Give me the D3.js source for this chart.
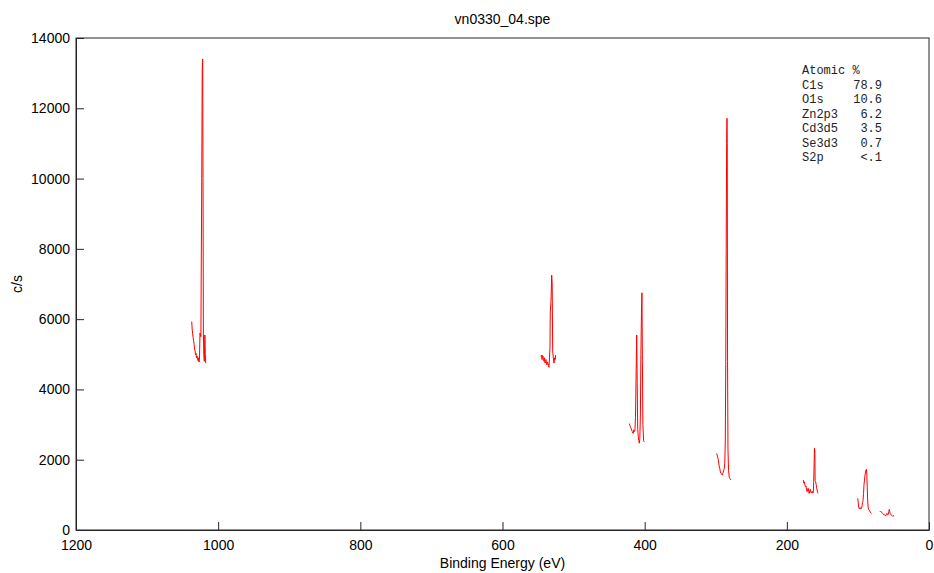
<!DOCTYPE html>
<html>
<head>
<meta charset="utf-8">
<script src="https://cdn.jsdelivr.net/npm/d3@7"></script>
<style>
  body { margin: 0; background: #fff; }
  svg { display: block; }
</style>
</head>
<body>
<svg id="chart" width="934" height="573"></svg>
<script>
// XPS survey regions, [binding energy eV, counts/s]
const zn2p = [
  [1037.2, 5930], [1036.6, 5720], [1036.0, 5600], [1035.3, 5480], [1034.6, 5400],
  [1033.9, 5280], [1033.2, 5150], [1032.5, 5100], [1031.8, 4980], [1031.1, 5020],
  [1030.4, 4900], [1029.7, 4950], [1029.0, 4860], [1028.3, 4820], [1027.6, 4900],
  [1026.9, 4780], [1026.3, 4850], [1025.6, 5600], [1025.0, 5550], [1024.3, 5500],
  [1023.8, 7400], [1023.1, 10000], [1022.4, 13100], [1021.8, 13400], [1021.3, 10000],
  [1020.8, 5600], [1020.2, 5000], [1019.5, 4800], [1018.7, 5550], [1018.1, 5000],
  [1017.5, 4750]
];
const o1s = [
  [545.8, 4930], [545.1, 4980], [544.4, 4850], [543.7, 4960], [543.0, 4950],
  [542.3, 4820], [541.6, 4800], [540.9, 4900], [540.2, 4750], [539.5, 4800],
  [538.8, 4850], [538.1, 4720], [537.4, 4700], [536.7, 4780], [536.0, 4750],
  [535.3, 4680], [534.6, 4630], [533.9, 4900], [533.2, 5200], [532.8, 6200],
  [531.8, 6500], [530.8, 7250], [530.1, 7000], [529.4, 5100], [528.5, 4900],
  [527.6, 4750], [526.6, 4900], [525.9, 4850], [525.2, 4980]
];
const cd3d = [
  [421.6, 3030], [420.9, 2980], [420.2, 2950], [419.5, 2900], [418.8, 2880],
  [418.1, 2830], [417.4, 2800], [416.7, 2760], [416.0, 2750], [415.3, 2850],
  [414.5, 2800], [413.7, 2830], [412.9, 3200], [412.0, 4500], [411.2, 5550],
  [410.5, 4200], [409.8, 2900], [409.0, 2650], [408.3, 2550], [407.5, 2470],
  [406.8, 2600], [406.0, 3300], [405.3, 5000], [404.5, 6200], [403.8, 6750],
  [403.2, 4800], [402.5, 3000], [401.5, 2550], [400.5, 2510]
];
const c1s = [
  [298.7, 2180], [298.0, 2130], [297.3, 2080], [296.5, 2000], [295.8, 1900],
  [295.0, 1800], [294.3, 1750], [293.5, 1650], [292.8, 1620], [292.0, 1600],
  [291.3, 1570], [290.8, 1565], [290.2, 1600], [289.5, 1650], [288.8, 1700],
  [288.0, 1760], [287.3, 1900], [286.6, 2500], [285.9, 4700], [285.3, 8000],
  [284.7, 11000], [284.2, 11715], [283.8, 10900], [283.4, 4800], [282.8, 2300],
  [282.0, 1700], [281.0, 1500], [280.0, 1460], [278.5, 1423]
];
const se3p = [
  [176.8, 1420], [176.0, 1330], [175.2, 1370], [174.5, 1280], [173.8, 1230],
  [173.0, 1250], [172.3, 1150], [171.5, 1090], [170.8, 1160], [170.0, 1190],
  [169.3, 1100], [168.5, 1040], [167.8, 1120], [167.0, 1160], [166.2, 1080],
  [165.5, 1050], [164.8, 1080], [164.2, 1100], [163.2, 1050], [162.6, 1100],
  [162.2, 1380], [161.6, 1900], [161.1, 2325], [160.6, 2250], [160.2, 1400],
  [159.6, 1380], [158.8, 1300], [158.0, 1200], [157.0, 1100], [156.2, 1044]
];
const zn3p = [
  [100.3, 900], [99.6, 800], [99.0, 650], [98.4, 620], [97.7, 600],
  [97.0, 640], [96.3, 600], [95.6, 610], [94.8, 620], [94.1, 700],
  [93.4, 780], [92.8, 850], [92.1, 1040], [91.4, 1300], [90.7, 1420],
  [90.0, 1560], [89.3, 1650], [88.7, 1700], [88.1, 1727], [87.5, 1600],
  [86.9, 1230], [86.2, 800], [85.5, 626], [84.8, 580], [84.0, 569],
  [83.3, 540], [82.5, 500], [81.5, 480], [80.6, 474]
];
const se3d = [
  [68.9, 522], [68.3, 540], [67.6, 525], [67.0, 510], [66.3, 490],
  [65.6, 474], [65.0, 470], [64.2, 450], [63.5, 427], [62.8, 440],
  [62.0, 420], [61.3, 398], [60.6, 410], [60.0, 440], [59.3, 474],
  [58.7, 440], [58.0, 427], [57.3, 450], [56.6, 520], [55.9, 588],
  [55.2, 520], [54.5, 470], [53.8, 450], [53.0, 420], [52.3, 410],
  [51.5, 400], [50.5, 405], [49.2, 398]
];
const regions = [zn2p, o1s, cd3d, c1s, se3p, zn3p, se3d];

const xTicks = [1200, 1000, 800, 600, 400, 200, 0];
const yTicks = [0, 2000, 4000, 6000, 8000, 10000, 12000, 14000];

const quantNames = ["C1s", "O1s", "Zn2p3", "Cd3d5", "Se3d3", "S2p"];
const quantValues = ["78.9", "10.6", "6.2", "3.5", "0.7", "<.1"];

const svg = d3.select("#chart");
const margin = { top: 38, right: 5, bottom: 43, left: 76 };
const W = 934, H = 573;
const width = W - margin.left - margin.right;
const height = H - margin.top - margin.bottom;

const x = d3.scaleLinear().domain([1200, 0]).range([0, width]);
const y = d3.scaleLinear().domain([0, 14000]).range([height, 0]);

const g = svg.append("g")
  .attr("transform", `translate(${margin.left},${margin.top})`);

const axisColor = "#262626";
const font = "'Liberation Sans', Arial, sans-serif";

// spectrum segments
const line = d3.line().x(d => x(d[0])).y(d => y(d[1]));
g.selectAll("path.seg")
  .data(regions)
  .enter()
  .append("path")
  .attr("class", "seg")
  .attr("d", line)
  .attr("fill", "none")
  .attr("stroke", "#ff0000")
  .attr("stroke-width", 1);

// box
g.append("rect")
  .attr("x", 0).attr("y", 0)
  .attr("width", width).attr("height", height)
  .attr("fill", "none")
  .attr("stroke", axisColor)
  .attr("stroke-width", 1);

const xAxis = g.append("g")
  .attr("transform", `translate(0,${height})`)
  .call(d3.axisBottom(x).tickValues(xTicks).tickFormat(d3.format("d"))
    .tickSizeInner(-8).tickSizeOuter(0).tickPadding(10));
const yAxis = g.append("g")
  .call(d3.axisLeft(y).tickValues(yTicks).tickFormat(d3.format("d"))
    .tickSizeInner(-8).tickSizeOuter(0).tickPadding(6));

[xAxis, yAxis].forEach(a => {
  a.select(".domain").attr("stroke", axisColor);
  a.selectAll(".tick line").attr("stroke", axisColor);
  a.selectAll(".tick text")
    .attr("fill", "#000")
    .style("font-family", font)
    .style("font-size", "14px");
});

// labels
svg.append("text")
  .attr("x", margin.left + width / 2)
  .attr("y", 24)
  .attr("text-anchor", "middle")
  .style("font-family", font)
  .style("font-size", "14px")
  .text("vn0330_04.spe");

svg.append("text")
  .attr("x", margin.left + width / 2)
  .attr("y", 568)
  .attr("text-anchor", "middle")
  .style("font-family", font)
  .style("font-size", "14px")
  .text("Binding Energy (eV)");

svg.append("text")
  .attr("transform", `translate(22,${margin.top + height / 2}) rotate(-90)`)
  .attr("text-anchor", "middle")
  .style("font-family", font)
  .style("font-size", "14px")
  .text("c/s");

// quantification table
const mono = "'Liberation Mono', 'Courier New', monospace";
const tbl = svg.append("g").attr("fill", "#222")
  .style("font-family", mono).style("font-size", "12px");
tbl.append("text").attr("x", 802).attr("y", 74).text("Atomic %");
quantNames.forEach((n, i) => {
  tbl.append("text").attr("x", 802).attr("y", 89 + i * 14.4).text(n);
  tbl.append("text").attr("x", 882).attr("y", 89 + i * 14.4)
    .attr("text-anchor", "end").text(quantValues[i]);
});
</script>
</body>
</html>
